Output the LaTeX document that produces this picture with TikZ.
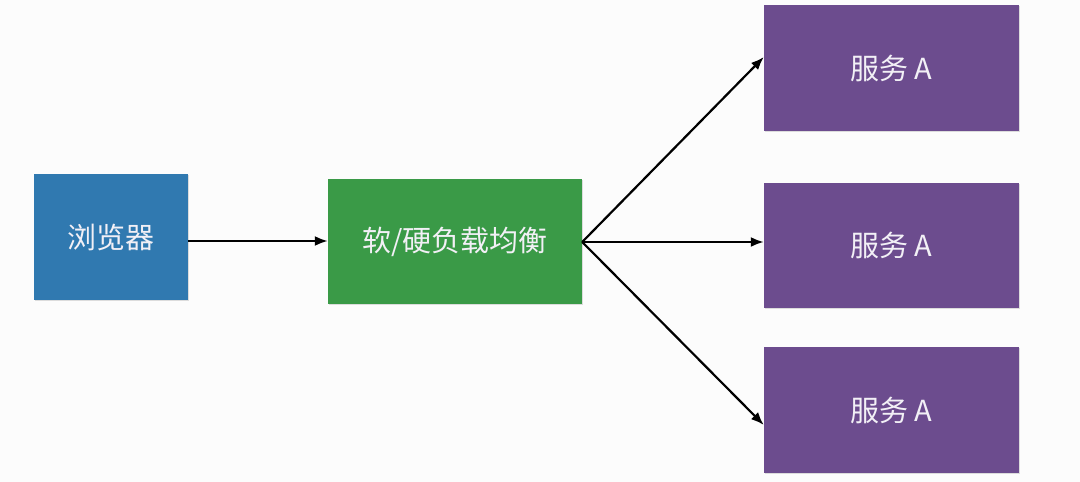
\documentclass[tikz,border=0pt]{standalone}
\usepackage{fontspec}
\setmainfont{Noto Sans CJK SC}
\usetikzlibrary{arrows.meta,shadows}
\definecolor{bgc}{HTML}{FCFCFC}
\definecolor{boxblue}{HTML}{3079B0}
\definecolor{boxgreen}{HTML}{3A9A47}
\definecolor{boxpurple}{HTML}{6C4C8E}
\definecolor{txt}{HTML}{F2F0F6}
\begin{document}
\begin{tikzpicture}[x=1pt,y=-1pt,
  box/.style={draw=none,minimum height=126pt,text=txt,font=\fontsize{29}{33}\selectfont,
    drop shadow={shadow xshift=1.2pt,shadow yshift=-1.2pt,opacity=0.25}},
  conn/.style={line width=2.2pt,-{Latex[length=13pt,width=10pt]}}]
\fill[bgc] (0,0) rectangle (1080,482);
\useasboundingbox (0,0) rectangle (1080,482);
\node[box,fill=boxblue,minimum width=154pt] (browser) at (111,237) {浏览器};
\node[box,fill=boxgreen,minimum width=254pt,minimum height=125pt] (lb) at (455,241.5) {软/硬负载均衡};
\node[box,fill=boxpurple,minimum width=255pt] (s1) at (891.5,68) {服务 A};
\node[box,fill=boxpurple,minimum width=255pt,minimum height=125pt] (s2) at (891.5,245.5) {服务 A};
\node[box,fill=boxpurple,minimum width=255pt] (s3) at (891.5,410) {服务 A};
\coordinate (src) at (lb.east |- 0,242);
\coordinate (t1) at (s1.west |- 0,57);
\coordinate (t3) at (s3.west |- 0,425);
\draw[conn] (browser.east |- 0,241) -- (lb.west |- 0,241);
\draw[conn] (src) -- (t1);
\draw[conn] (src) -- (s2.west |- src);
\draw[conn] (src) -- (t3);
\end{tikzpicture}
\end{document}
